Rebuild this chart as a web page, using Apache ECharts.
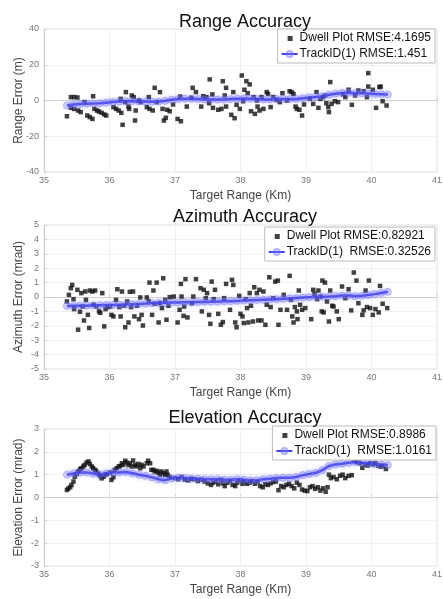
<!DOCTYPE html>
<html><head><meta charset="utf-8">
<script src="https://cdn.jsdelivr.net/npm/echarts@6/dist/echarts.min.js"></script>
<style>html,body{margin:0;padding:0;background:#fff}#c{width:443px;height:599px}</style>
</head><body><div id="c"></div>
<script>
// ---------- data ----------
var titles = ["Range Accuracy", "Azimuth Accuracy", "Elevation Accuracy"];
var yNames = ["Range Error (m)", "Azimuth Error (mrad)", "Elevation Error (mrad)"];
var xName = "Target Range (Km)";
var dwellNames = ["Dwell Plot RMSE:4.1695", "Dwell Plot RMSE:0.82921", "Dwell Plot RMSE:0.8986"];
var trackNames = ["TrackID(1) RMSE:1.451", "TrackID(1)  RMSE:0.32526", "TrackID(1)  RMSE:1.0161"];
var yRanges = [[-40, 40, 20], [-5, 5, 1], [-3, 3, 1]];

var dwellX1 = [35.35,35.41,35.46,35.51,35.41,35.46,35.52,35.56,35.62,35.66,35.70,35.74,35.75,35.77,35.81,35.84,35.88,35.92,35.95,36.06,36.10,36.14,36.18,36.17,36.20,36.25,36.24,36.29,36.30,36.34,36.37,36.39,36.40,36.45,36.48,36.60,36.57,36.61,36.66,36.69,36.72,36.77,36.81,36.83,36.86,36.88,36.92,36.97,37.04,37.09,37.08,37.18,37.27,37.32,37.25,37.40,37.43,37.48,37.52,37.53,37.57,37.58,37.66,37.71,37.73,37.76,37.78,37.78,37.86,37.89,37.91,37.94,38.02,37.99,38.04,38.06,38.09,38.11,38.14,38.16,38.20,38.22,38.25,38.26,38.29,38.32,38.35,38.40,38.42,38.46,38.50,38.55,38.60,38.64,38.71,38.75,38.78,38.81,38.84,38.86,38.90,38.94,38.97,39.06,39.11,39.16,39.19,39.22,39.26,39.29,39.31,39.34,39.35,39.37,39.39,39.44,39.49,39.57,39.60,39.65,39.70,39.75,39.80,39.88,39.93,39.95,39.95,40.02,40.07,40.12,40.14,40.17,40.23];
var dwellY1 = [-8.8,1.9,1.9,1.7,-4.1,-4.7,-5.6,-6.5,-0.9,-8.4,-9.3,-10.3,2.4,-4.7,-5.6,-6.2,-6.9,-7.8,-8.4,-3.7,-4.7,-5.6,-6.9,0.9,-13.6,4.7,-0.9,-3.4,-4.7,2.8,1.9,-11.2,-5.6,0,-0.9,1.9,-3.7,-4.7,-5.6,7.1,-0.9,4.7,-4.7,-11.2,-9.7,-5.2,-6.0,-2.2,-10.3,-11.6,2.2,-3.4,7.1,4.7,1.5,-3.4,2.4,1.9,-1.5,11.8,3.4,-4.1,-5.2,-4.7,10.8,2.8,7.1,-3.4,-8.0,4.7,-9.9,-2.4,14.0,-4.7,-0.4,6.0,10.8,4.1,9.0,-6.0,1.9,-7.5,0,-3.4,-5.6,1.9,-4.7,4.7,3.7,-3.7,1.9,0.4,-0.9,4.1,0,5.2,4.7,3.7,-3.4,-4.7,-5.2,-8.4,-2.2,0.9,-1.9,4.7,-4.1,0.9,1.9,2.8,-1.5,-3.7,-6.5,10.3,-1.9,-0.4,-0.9,3.4,1.9,6.0,-2.4,2.8,5.6,5.2,1.9,15.3,7.8,6.0,-4.1,7.5,7.8,-0.4,-2.8];

var dwellX2 = [35.35,35.38,35.41,35.43,35.45,35.46,35.51,35.52,35.55,35.57,35.59,35.61,35.63,35.64,35.67,35.69,35.70,35.74,35.76,35.78,35.80,35.84,35.86,35.89,35.92,35.94,35.97,36.01,36.03,36.06,36.10,36.12,36.15,36.17,36.19,36.22,36.24,36.27,36.29,36.31,36.33,36.36,36.38,36.42,36.45,36.47,36.49,36.51,36.57,36.60,36.61,36.65,36.67,36.69,36.72,36.75,36.77,36.80,36.82,36.85,36.87,36.90,36.92,36.98,37.04,37.07,37.09,37.10,37.13,37.14,37.16,37.19,37.26,37.28,37.32,37.39,37.41,37.44,37.47,37.49,37.52,37.54,37.56,37.59,37.61,37.66,37.70,37.73,37.75,37.78,37.84,37.87,37.89,37.92,37.94,37.98,38.00,38.03,38.05,38.08,38.10,38.12,38.14,38.16,38.19,38.21,38.25,38.27,38.29,38.32,38.35,38.38,38.40,38.44,38.46,38.50,38.53,38.57,38.58,38.61,38.66,38.71,38.75,38.77,38.79,38.81,38.83,38.86,38.87,38.89,38.91,38.94,38.99,39.08,39.11,39.13,39.17,39.19,39.22,39.24,39.25,39.27,39.29,39.32,39.35,39.37,39.40,39.42,39.47,39.50,39.55,39.60,39.65,39.69,39.73,39.77,39.80,39.86,39.88,39.91,39.93,39.96,39.98,40.02,40.06,40.11,40.13,40.17,40.24];
var dwellY2 = [-0.31,0.15,0.61,0.84,-0.15,-0.84,0.50,-2.27,-1.03,0.27,-0.66,-1.63,0.38,-0.2,-1.24,-2.15,0.45,0.38,-0.54,0.45,-0.66,-1.0,-1.1,0.27,-2.04,-0.84,-0.7,-0.66,-1.24,-1.35,-0.2,0.54,-0.7,-1.35,0.38,-0.61,-2.1,-0.31,-1.77,0.36,-0.7,0.38,-1.35,-0.61,-1.54,-0.03,-1.24,-1.98,-0.03,-0.31,1.0,-1.24,0.45,-0.47,1.0,-1.77,-0.43,-0.77,1.3,-0.2,-1.58,-0.61,-0.01,0.03,-1.77,-0.89,0.91,0.03,-1.31,-0.66,1.24,-1.42,-0.43,0.03,1.24,0.61,-1.0,0.5,-0.08,0.27,-1.24,-1.86,1.07,-0.15,0.5,-1.17,-1.93,-1.74,-0.08,0.91,-0.89,1.19,0.84,-1.77,-2.1,0.08,-1.17,-1.35,-1.81,-0.15,-0.77,-1.77,0.27,-0.61,-1.7,0.68,0.27,-1.63,0.5,-1.63,0.38,-1.93,-0.54,1.37,-0.7,-0.08,1.07,1.14,-1.93,-0.89,0.15,-0.89,1.47,-0.2,-1.35,-1.77,-0.7,-1.0,-1.54,0.45,-0.54,-0.89,-0.77,-1.54,0.5,0.22,-0.15,0.45,0.03,-1.0,1.14,-1.07,1.0,-0.31,-1.7,0.45,-0.61,-0.66,-1.0,-1.54,0.73,-0.08,0.54,-0.93,1.7,1.14,-0.43,-1.24,-0.93,0.45,-0.7,1.14,-0.77,-1.24,-0.84,-1.07,0.77,-0.47,-0.77];

var dwellX3 = [35.35,35.37,35.40,35.42,35.45,35.47,35.50,35.52,35.55,35.57,35.60,35.62,35.65,35.68,35.70,35.73,35.75,35.78,35.80,35.83,35.86,35.88,35.91,35.93,35.96,36.01,36.03,36.06,36.08,36.11,36.14,36.16,36.19,36.21,36.24,36.26,36.29,36.31,36.34,36.36,36.39,36.41,36.44,36.47,36.49,36.52,36.57,36.59,36.62,36.64,36.67,36.69,36.72,36.74,36.77,36.79,36.82,36.85,36.87,36.89,36.92,37.00,37.05,37.10,37.15,37.20,37.25,37.30,37.35,37.40,37.45,37.50,37.55,37.58,37.62,37.66,37.70,37.73,37.76,37.80,37.84,37.88,37.92,37.95,38.00,38.03,38.06,38.10,38.14,38.18,38.22,38.26,38.30,38.34,38.38,38.42,38.46,38.50,38.54,38.58,38.62,38.66,38.70,38.74,38.78,38.82,38.86,38.90,38.94,38.98,39.02,39.06,39.10,39.14,39.18,39.22,39.26,39.30,39.33,39.35,39.38,39.42,39.47,39.52,39.56,39.60,39.65,39.70,39.74,39.78,39.82,39.86,39.90,39.94,39.98,40.02,40.06,40.10,40.14,40.18,40.22];
var dwellY3 = [0.33,0.39,0.45,0.55,0.70,0.91,1.03,1.14,1.24,1.28,1.36,1.43,1.53,1.58,1.47,1.36,1.28,1.21,1.14,1.03,0.94,0.84,0.91,0.99,1.03,1.09,0.77,0.89,1.21,1.28,1.36,1.38,1.50,1.43,1.61,1.53,1.42,1.50,1.36,1.62,1.43,1.36,1.47,1.28,1.43,1.36,1.50,1.61,1.50,1.21,1.21,1.14,1.17,1.09,0.99,1.14,1.06,0.99,1.14,0.99,0.89,0.85,0.80,0.90,0.78,0.75,0.82,0.80,0.72,0.78,0.70,0.62,0.55,0.65,0.70,0.58,0.78,0.62,0.50,0.65,0.72,0.55,0.50,0.65,0.75,0.60,0.70,0.60,0.65,0.72,0.60,0.68,0.50,0.45,0.58,0.55,0.62,0.68,0.70,0.32,0.50,0.45,0.55,0.60,0.50,0.40,0.65,0.55,0.35,0.30,0.28,0.45,0.50,0.38,0.45,0.30,0.40,0.25,0.45,1.00,0.85,0.90,0.80,0.95,1.00,0.85,0.95,0.98,1.60,1.55,1.50,1.30,1.45,1.40,1.50,1.45,1.50,1.40,1.35,1.38,1.25];

var trackX = [35.35,35.45,35.55,35.65,35.75,35.85,35.95,36.05,36.15,36.25,36.35,36.45,36.55,36.65,36.75,36.85,36.95,37.05,37.15,37.25,37.35,37.45,37.55,37.65,37.75,37.85,37.95,38.05,38.15,38.25,38.35,38.45,38.55,38.65,38.75,38.85,38.95,39.05,39.15,39.25,39.35,39.45,39.55,39.65,39.75,39.85,39.95,40.05,40.15,40.25];
var trackY1 = [-2.8,-2.3,-2.0,-1.8,-1.7,-1.6,-1.2,-0.9,-0.6,-0.4,-0.3,-0.5,-0.6,-0.7,-0.6,-0.2,0.4,0.8,1.0,1.0,0.8,0.6,0.5,0.5,0.6,0.8,1.0,1.1,1.0,0.8,0.6,0.6,0.8,0.9,0.8,0.9,1.3,1.7,2.0,2.4,3.2,3.8,4.2,4.3,4.1,4.0,3.9,3.7,3.5,3.3];
var trackY2 = [-0.62,-0.61,-0.6,-0.6,-0.58,-0.57,-0.56,-0.55,-0.53,-0.52,-0.5,-0.48,-0.46,-0.44,-0.42,-0.4,-0.39,-0.38,-0.37,-0.36,-0.35,-0.34,-0.33,-0.32,-0.3,-0.29,-0.27,-0.25,-0.23,-0.21,-0.19,-0.17,-0.15,-0.13,-0.1,-0.07,-0.04,-0.01,0.01,0.02,0.03,0.06,0.1,0.1,0.05,0.08,0.14,0.2,0.28,0.36];
var trackY3 = [1.0,1.05,1.09,1.1,1.05,1.0,1.05,1.1,1.1,1.12,1.06,1.0,0.95,0.88,0.8,0.76,0.84,0.87,0.85,0.83,0.82,0.8,0.8,0.8,0.78,0.78,0.8,0.78,0.75,0.76,0.8,0.82,0.85,0.86,0.86,0.9,0.98,1.03,1.08,1.2,1.38,1.45,1.48,1.52,1.55,1.52,1.5,1.47,1.44,1.42];

var xMin = 35, xMax = 41, xStep = 1;

// ---------- chart ----------
var dwellX = [dwellX1, dwellX2, dwellX3];
var dwellY = [dwellY1, dwellY2, dwellY3];
var trackY = [trackY1, trackY2, trackY3];
function zip(a, b) { return a.map(function (v, i) { return [v, b[i]]; }); }

var font = "Arial, 'Liberation Sans', sans-serif";
var tops = [29, 225, 429];
var heights = [143, 144, 137];
var titleTops = [8, 203, 404];
var legendTops = [29, 227, 426];
var legendRights = [8, 8, 7];

var option = { animation: false, backgroundColor: '#fff', title: [], grid: [], xAxis: [], yAxis: [], legend: [], series: [] };
for (var k = 0; k < 3; k++) {
  option.title.push({ text: titles[k], left: 240, textAlign: 'center', top: titleTops[k],
    textStyle: { fontFamily: font, fontSize: 18, fontWeight: 'normal', color: '#111' } });
  option.grid.push({ left: 44, right: 6, top: tops[k], height: heights[k], show: true,
    borderColor: '#e2e2e2', borderWidth: 1, containLabel: false, outerBoundsMode: 'none' });
  option.xAxis.push({ gridIndex: k, type: 'value', min: xMin, max: xMax, interval: xStep,
    name: xName, nameLocation: 'middle', nameGap: 18, nameMoveOverlap: false,
    nameTextStyle: { fontFamily: font, fontSize: 12, color: '#444' },
    axisLine: { show: true, lineStyle: { color: '#cfcfcf' } },
    axisTick: { show: true, inside: true, length: 3, lineStyle: { color: '#cfcfcf' } },
    axisLabel: { fontFamily: font, fontSize: 9, color: '#777', margin: 4 },
    splitLine: { show: true, lineStyle: { color: '#f0f0f0' } } });
  option.yAxis.push({ gridIndex: k, type: 'value', min: yRanges[k][0], max: yRanges[k][1], interval: yRanges[k][2],
    name: yNames[k], nameLocation: 'middle', nameGap: 19, nameRotate: 90, nameMoveOverlap: false,
    nameTextStyle: { fontFamily: font, fontSize: 12, color: '#444' },
    axisLine: { show: true, lineStyle: { color: '#cfcfcf' } },
    axisTick: { show: true, inside: true, length: 3, lineStyle: { color: '#cfcfcf' } },
    axisLabel: { fontFamily: font, fontSize: 9, color: '#777', margin: 5 },
    splitLine: { show: true, lineStyle: { color: '#f0f0f0' } } });
  option.legend.push({
    data: [
      { name: dwellNames[k], icon: 'path://M0,0M16,8M6,2L11,2L11,7L6,7Z', itemStyle: { color: '#111' } },
      { name: trackNames[k] }
    ],
    orient: 'vertical', right: legendRights[k], top: legendTops[k], symbolKeepAspect: true,
    backgroundColor: '#fff', borderColor: '#bbb', borderWidth: 1, padding: [3, 4, 3, 3], itemGap: 4,
    itemWidth: 16, itemHeight: 8,
    textStyle: { fontFamily: font, fontSize: 12, color: '#111', padding: [0, 0, 0, -3] } });
  option.series.push({ name: dwellNames[k], type: 'scatter', xAxisIndex: k, yAxisIndex: k,
    data: zip(dwellX[k], dwellY[k]), symbol: 'rect', symbolSize: 4.5, z: 2,
    itemStyle: { color: '#111' } });
  option.series.push({ name: trackNames[k], type: 'line', xAxisIndex: k, yAxisIndex: k,
    data: zip(trackX, trackY[k]), symbol: 'circle', symbolSize: 7, showSymbol: true, z: 3,
    lineStyle: { color: 'rgba(35,35,225,0.85)', width: 2.5, shadowColor: 'rgba(90,90,255,0.9)', shadowBlur: 5 },
    itemStyle: { color: 'rgba(130,130,255,0.3)', borderColor: 'rgba(110,110,255,0.45)', borderWidth: 1 } });
}
var chart = echarts.init(document.getElementById('c'), null, { renderer: 'canvas' });
chart.setOption(option);
</script></body></html>
